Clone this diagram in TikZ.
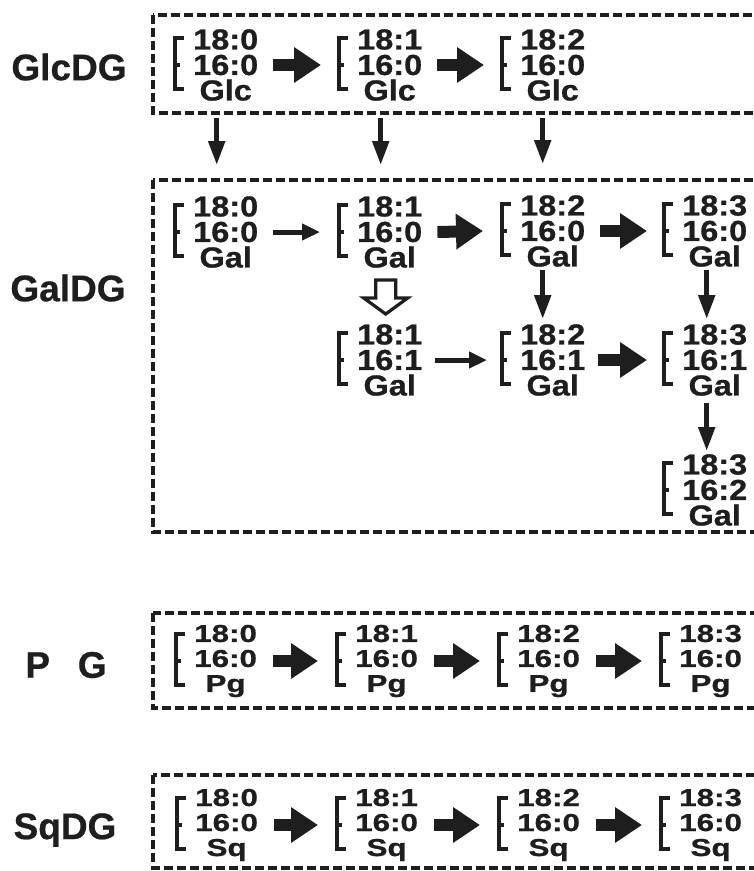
\documentclass[tikz,border=0pt]{standalone}
\usepackage{fontspec}
\setmainfont[BoldFeatures={FakeBold=0.6}]{Liberation Sans}
\newfontfamily\cmpA[FakeStretch=1.12, BoldFeatures={FakeBold=0.8}]{Liberation Sans}
\newfontfamily\cmpB[FakeStretch=1.28, BoldFeatures={FakeBold=0.8}]{Liberation Sans}
\usetikzlibrary{arrows.meta,calc}
\definecolor{ink}{HTML}{1E1E1E}
\begin{document}
\begin{tikzpicture}[x=1pt,y=-1pt,
  lbl/.style={font=\fontsize{37}{40}\selectfont\bfseries, text=ink, inner sep=0pt},
  cmp/.style={font=\cmpA\bfseries\fontsize{29}{25.5}\selectfont, text=ink, align=center, inner sep=0pt, anchor=west},
  cmpb/.style={font=\cmpB\bfseries\fontsize{24.5}{25}\selectfont, text=ink, align=center, inner sep=0pt, anchor=west},
  brk/.style={draw=ink, line width=3.6pt, line cap=butt, line join=miter},
  dbox/.style={draw=ink, line width=3.4pt, dash pattern=on 9pt off 4pt},
  blk/.style={draw=ink, line width=12pt, -{Triangle[length=27pt,width=34pt]}},
  thin/.style={draw=ink, line width=5pt, -{Triangle[length=18pt,width=16pt]}},
  varr/.style={draw=ink, line width=5pt, -{Triangle[length=24pt,width=16pt]}},
  hollow/.style={draw=ink, line width=3.2pt, fill=white, line join=miter}]
\useasboundingbox (0,0) rectangle (754,871);
\clip (0,0) rectangle (754,871);

% frames
\draw[dbox] (153,15) rectangle (790,113);
\draw[dbox] (153,180) rectangle (790,532);
\draw[dbox] (153,613) rectangle (790,708);
\draw[dbox] (153,775) rectangle (790,868);

% labels
\node[lbl] (lglc) at (69,67) {GlcDG};
\node[lbl] (lgal) at (68,288) {GalDG};
\node[lbl] (lpg) at (66,665) {P\hspace{0.75em}G};
\node[lbl] (lsq) at (65,830) {SqDG};

% GlcDG
\node[cmp] (a1) at (193,65) {18:0\\16:0\\Glc};
\node[cmp] (a2) at (357,65) {18:1\\16:0\\Glc};
\node[cmp] (a3) at (520,65) {18:2\\16:0\\Glc};
% GalDG
\node[cmp] (b1) at (193,232) {18:0\\16:0\\Gal};
\node[cmp] (b2) at (357,232) {18:1\\16:0\\Gal};
\node[cmp] (b3) at (520,231) {18:2\\16:0\\Gal};
\node[cmp] (b4) at (682,231) {18:3\\16:0\\Gal};
\node[cmp] (c2) at (357,360) {18:1\\16:1\\Gal};
\node[cmp] (c3) at (520,360) {18:2\\16:1\\Gal};
\node[cmp] (c4) at (682,360) {18:3\\16:1\\Gal};
\node[cmp] (d4) at (682,490) {18:3\\16:2\\Gal};
% PG
\node[cmpb] (p1) at (194,661) {18:0\\16:0\\Pg};
\node[cmpb] (p2) at (355,661) {18:1\\16:0\\Pg};
\node[cmpb] (p3) at (517,661) {18:2\\16:0\\Pg};
\node[cmpb] (p4) at (679,661) {18:3\\16:0\\Pg};
% SqDG
\node[cmpb] (s1) at (195,825) {18:0\\16:0\\Sq};
\node[cmpb] (s2) at (355,825) {18:1\\16:0\\Sq};
\node[cmpb] (s3) at (517,825) {18:2\\16:0\\Sq};
\node[cmpb] (s4) at (679,825) {18:3\\16:0\\Sq};

% brackets
\foreach \n in {a1,a2,a3,b1,b2,b3,b4,c2,c3,c4,d4,p1,p2,p3,p4,s1,s2,s3,s4}{
  \draw[brk] ($(\n.west)+(-9,-27)$) -- ($(\n.west)+(-18,-27)$) -- ($(\n.west)+(-18,24)$) -- ($(\n.west)+(-9,24)$);
  \draw[brk] ($(\n.west)+(-18,0)$) -- ($(\n.west)+(-13,0)$);
}

% horizontal arrows
\draw[blk] ($(a1.east)+(15,0)$) -- ($(a2.west)+(-36,0)$);
\draw[blk] ($(a2.east)+(15,0)$) -- ($(a3.west)+(-36,0)$);
\draw[thin] ($(b1.east)+(15,0)$) -- ($(b2.west)+(-37,0)$);
\draw[blk] ($(b2.east)+(15,0)$) -- ($(b3.west)+(-37,0)$);
\draw[blk] ($(b3.east)+(15,0)$) -- ($(b4.west)+(-35,0)$);
\draw[thin] ($(c2.east)+(13,0)$) -- ($(c3.west)+(-33,0)$);
\draw[blk] ($(c3.east)+(13,0)$) -- ($(c4.west)+(-35,0)$);
\foreach \u/\v in {p1/p2,p2/p3,p3/p4,s1/s2,s2/s3,s3/s4}{
  \draw[blk] ($(\u.east)+(16,0)$) -- ($(\v.west)+(-37,0)$);
}

% vertical arrows
\draw[varr] ($(a1.south)+(-9,17)$) -- ($(b1.north)+(-9,-31)$);
\draw[varr] ($(a2.south)+(-9,17)$) -- ($(b2.north)+(-9,-31)$);
\draw[varr] ($(a3.south)+(-10,17)$) -- ($(b3.north)+(-10,-31)$);
\draw[varr] ($(b3.south)+(-10,3)$) -- ($(c3.north)+(-10,-5)$);
\draw[varr] ($(b4.south)+(-8,3)$) -- ($(c4.north)+(-8,-5)$);
\draw[varr] ($(c4.south)+(-8,7)$) -- ($(d4.north)+(-8,-3)$);

% hollow arrow
\coordinate (ht) at ($(b2.south)+(-4,12)$);
\coordinate (hp) at ($(c2.north)+(-4,-10)$);
\draw[hollow] let \p1=(ht), \p2=(hp) in
  (\x1-10pt,\y1) -- (\x1+10pt,\y1) -- (\x1+10pt,\y1-18pt) -- (\x1+22pt,\y1-18pt)
  -- (\x1,\y2) -- (\x1-22pt,\y1-18pt) -- (\x1-10pt,\y1-18pt) -- cycle;
\end{tikzpicture}
\end{document}
